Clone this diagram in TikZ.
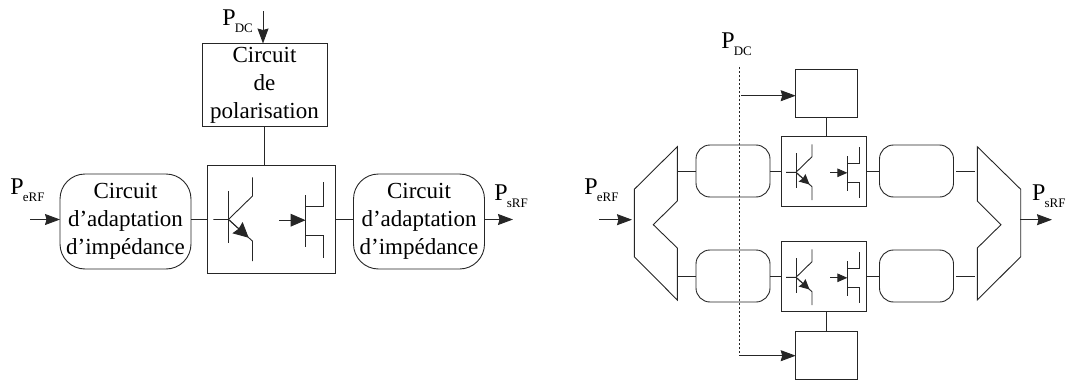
\documentclass[tikz,border=0pt]{standalone}
\usepackage{fontspec}
\setmainfont{Liberation Serif}
\usetikzlibrary{arrows.meta,positioning}
\newcommand{\powerlabel}[1]{P\hspace{-0.04em}\raisebox{-0.33em}{\fontsize{13}{13}\selectfont #1}}
\tikzset{
    pics/transistors/.style={code={
        % bipolar
        \draw (14.3,17.3) -- (14.3,52.3);
        \draw (4.3,36.3) -- (14.3,36.3) -- (30.3,20.7) -- (30.3,8.3);
        \draw (14.3,36.3) -- (30.3,50.7) -- (30.3,64);
        \draw [-{Stealth[length=#1,width=#1,inset=0.1*#1]}] (14.3,36.3) -- (27.8,48.5);
        % field effect
        \draw [-{Stealth[length=#1,width=0.85*#1,inset=0pt]}] (48.3,36.8) -- (65.7,36.8);
        \draw (65.7,20) -- (65.7,54.7);
        \draw (65.7,27.3) -- (77.3,27.3) -- (77.3,11.3);
        \draw (65.7,46.7) -- (77.3,46.7) -- (77.3,62.3);
    }}
}
\begin{document}
\begin{tikzpicture}[
    x=1pt, y=-1pt,
    line width=0.9pt, color=black!85, text=black,
    txt/.style={font=\fontsize{23}{28}\selectfont, align=center, inner sep=0pt},
    plabel/.style={font=\fontsize{24}{24}\selectfont, anchor=base west, inner sep=0pt},
    bigbox/.style={draw, rectangle, inner sep=0pt, outer sep=0pt, txt},
    adapt/.style={draw, rectangle, rounded corners=25pt, minimum width=131pt, minimum height=95pt, inner sep=0pt, outer sep=0pt, txt},
    smalladapt/.style={draw, rectangle, rounded corners=14pt, minimum width=74pt, minimum height=52pt, outer sep=0pt},
    smallamp/.style={draw, rectangle, minimum width=85pt, minimum height=70pt, outer sep=0pt},
    smallpol/.style={draw, rectangle, minimum width=61.6pt, minimum height=47.6pt, outer sep=0pt},
    flow/.style={-{Stealth[length=15pt,width=11pt,inset=1.5pt]}}
]
    \useasboundingbox (0,0) rectangle (1069,380);

    % Left diagram
    \node [bigbox, minimum width=125pt, minimum height=83pt] (pol) at (264.5,85) {Circuit\\de\\polarisation};
    \node [bigbox, minimum width=128pt, minimum height=108pt] (amp) at (271,219) {};
    \node [adapt] (adin) at (125.5,221.5) {Circuit\\d'adaptation\\d'impédance};
    \node [adapt] (adout) at (419,221.5) {Circuit\\d'adaptation\\d'impédance};
    \pic [scale=1.5] at (amp.north west) {transistors=15pt};

    \node [plabel] (pdc) at (222,25) {\powerlabel{DC}};
    \node [plabel] (pin) at (10,194) {\powerlabel{eRF}};
    \node [plabel] (pout) at (494,200) {\powerlabel{sRF}};

    \coordinate (dcstart) at (263,11);
    \coordinate (instart) at (30,219.5);
    \coordinate (outend) at (513,219.5);
    \draw [flow] (dcstart) -- (dcstart|-pol.north);
    \draw [flow] (instart) -- (instart-|adin.west);
    \draw [flow] (adout.east|-outend) -- (outend);
    \draw (pol.south) -- (pol.south|-amp.north);
    \draw (adin.east|-amp.west) -- (amp.west);
    \draw (amp.east) -- (adout.west|-amp.east);

    % Right diagram
    \foreach \name/\ypos in {top/171, bot/276} {
        \node [smallamp] (amp\name) at (824.2,\ypos) {};
        \node [smalladapt] (adin\name) at (733,\ypos) {};
        \node [smalladapt] (adout\name) at (916.5,\ypos) {};
        \pic at (amp\name.north west) {transistors=10pt};
        \coordinate (split\name) at (677.3,\ypos);
        \coordinate (join\name) at (977.3,\ypos);
        \draw (split\name) -- (adin\name.west);
        \draw (adin\name.east) -- (amp\name.west);
        \draw (amp\name.east) -- (adout\name.west);
        \draw [shorten <=2.5pt, shorten >=2pt] (adout\name.east) -- (join\name);
    }
    \node [smallpol] (poltop) at (826.5,93.5) {};
    \node [smallpol] (polbot) at (826.5,355.7) {};
    \draw (poltop.south) -- (poltop.south|-amptop.north);
    \draw (polbot.north) -- (polbot.north|-ampbot.south);

    \draw (677.3,146.7) -- (677.3,201) -- (653.3,224.7) -- (677.3,248) -- (677.3,300) -- (634.3,256.7) -- (634.3,189.3) -- cycle;
    \draw (977.3,146.7) -- (977.3,201) -- (1001,224.7) -- (977.3,248) -- (977.3,300) -- (1020.7,256.7) -- (1020.7,189.3) -- cycle;

    \node [plabel] (pdcr) at (721,48) {\powerlabel{DC}};
    \node [plabel] (pinr) at (584,194) {\powerlabel{eRF}};
    \node [plabel] (poutr) at (1031.7,200) {\powerlabel{sRF}};

    \coordinate (dctop) at (739.3,67);
    \coordinate (dcbot) at (739.3,355.7);
    \coordinate (dcmid) at (741,95.7);
    \coordinate (inr) at (599.3,219.7);
    \coordinate (splitin) at (632,219.7);
    \coordinate (joinout) at (1020,219.7);
    \coordinate (outr) at (1052,219.7);
    \draw [dash pattern=on 2pt off 2pt] (dctop) -- (dcbot);
    \draw [flow] (dcmid) -- (poltop.west|-dcmid);
    \draw [flow] (dcbot) -- (polbot.west);
    \draw [flow] (inr) -- (splitin);
    \draw [flow] (joinout) -- (outr);
\end{tikzpicture}
\end{document}
